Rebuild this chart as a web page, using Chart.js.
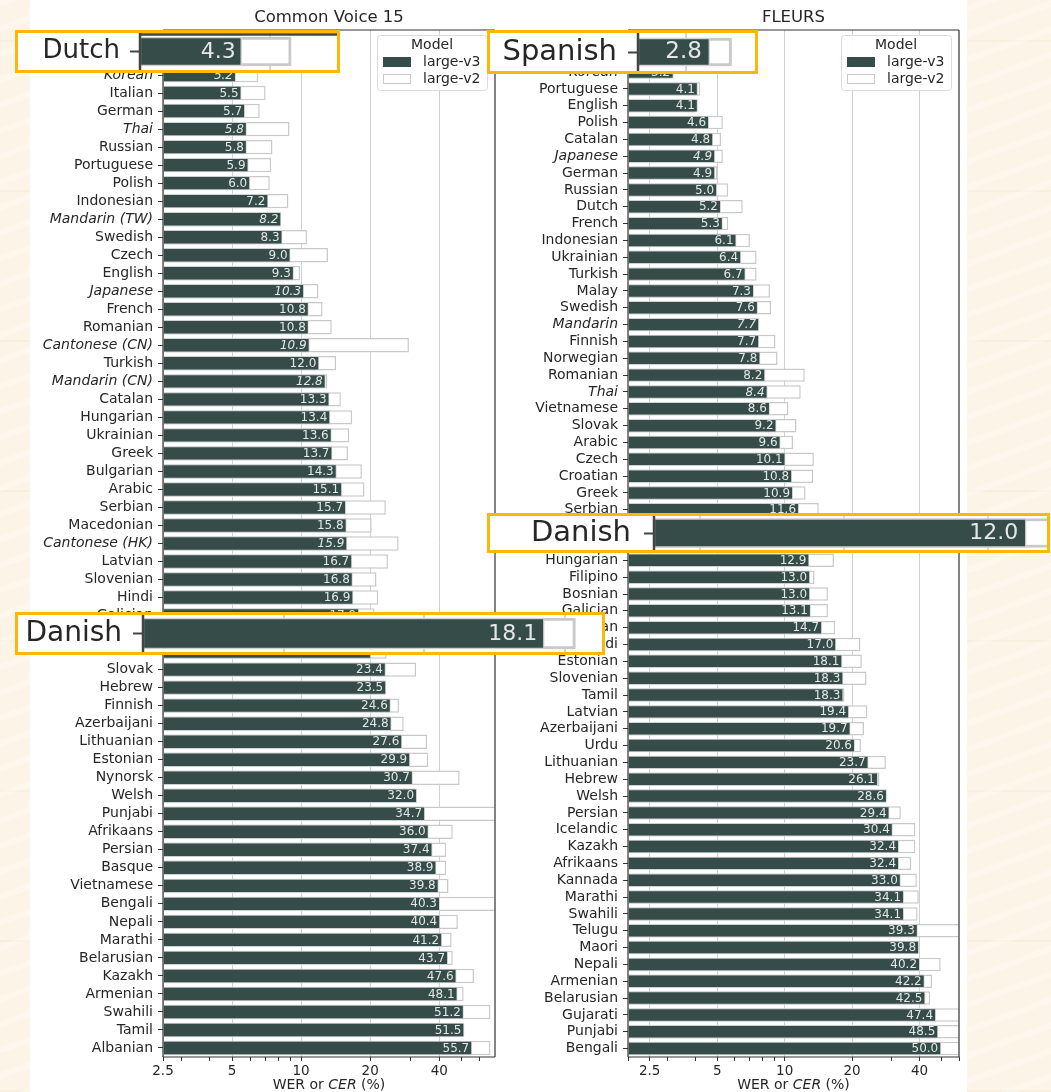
<!DOCTYPE html>
<html>
<head>
<meta charset="utf-8">
<script src="https://cdn.jsdelivr.net/npm/chart.js@4.4.1/dist/chart.umd.min.js"></script>
<style>
  html, body { margin: 0; padding: 0; }
  body {
    width: 1051px; height: 1092px; position: relative; overflow: hidden;
    background:
      repeating-linear-gradient(160deg, rgba(255,255,255,0.3) 0 6px, rgba(255,255,255,0) 6px 24px),
      repeating-linear-gradient(0deg, rgba(240,224,198,0.25) 0 2px, rgba(255,255,255,0) 2px 150px),
      #fcf4e7;
  }
  #sheet { position: absolute; left: 30px; top: 0; width: 937px; height: 1092px; background: #fff; }
  canvas.panel { position: absolute; top: 0; }
  .callout { position: absolute; box-sizing: border-box; border: 3px solid #fbb80a; background: #fff; }
  .callout canvas { display: block; filter: blur(0.5px); }
</style>
</head>
<body>
<div id="sheet"></div>
<canvas id="cvChart" class="panel" width="500" height="1092" style="left:0"></canvas>
<canvas id="fleursChart" class="panel" width="500" height="1092" style="left:500px"></canvas>
<script>
// Common Voice 15
const cvLangs = [
  "Dutch", "Spanish", "Korean", "Italian", "German", "Thai", "Russian", "Portuguese", "Polish",
  "Indonesian", "Mandarin (TW)", "Swedish", "Czech", "English", "Japanese", "French", "Romanian",
  "Cantonese (CN)", "Turkish", "Mandarin (CN)", "Catalan", "Hungarian", "Ukrainian", "Greek",
  "Bulgarian", "Arabic", "Serbian", "Macedonian", "Cantonese (HK)", "Latvian", "Slovenian", "Hindi",
  "Galician", "Danish", "Urdu", "Slovak", "Hebrew", "Finnish", "Azerbaijani", "Lithuanian",
  "Estonian", "Nynorsk", "Welsh", "Punjabi", "Afrikaans", "Persian", "Basque", "Vietnamese",
  "Bengali", "Nepali", "Marathi", "Belarusian", "Kazakh", "Armenian", "Swahili", "Tamil", "Albanian"
];
const cvLargeV3 = [
  4.3, 4.9, 5.2, 5.5, 5.7, 5.8, 5.8, 5.9, 6.0,
  7.2, 8.2, 8.3, 9.0, 9.3, 10.3, 10.8, 10.8,
  10.9, 12.0, 12.8, 13.3, 13.4, 13.6, 13.7,
  14.3, 15.1, 15.7, 15.8, 15.9, 16.7, 16.8, 16.9,
  17.9, 18.1, 20.2, 23.4, 23.5, 24.6, 24.8, 27.6,
  29.9, 30.7, 32.0, 34.7, 36.0, 37.4, 38.9, 39.8,
  40.3, 40.4, 41.2, 43.7, 47.6, 48.1, 51.2, 51.5, 55.7
];
const cvLargeV2 = [
  5.6, 5.9, 6.5, 7.0, 6.6, 8.9, 7.5, 7.4, 7.3,
  8.8, 8.1, 10.6, 13.1, 9.9, 11.9, 12.4, 13.6,
  29.5, 14.2, 13.0, 14.9, 16.7, 16.2, 16.0,
  18.4, 18.9, 23.4, 20.3, 26.6, 23.9, 21.3, 21.7,
  20.9, 21.1, 23.6, 31.7, 23.2, 26.7, 28.0, 35.4,
  35.8, 49.1, 31.5, 80.0, 45.8, 42.9, 42.9, 43.9,
  80.0, 48.2, 45.3, 45.8, 56.7, 51.1, 66.8, 50.8, 66.8
];

// FLEURS
const fleursLangs = [
  "Spanish", "Italian", "Korean", "Portuguese", "English", "Polish", "Catalan", "Japanese", "German",
  "Russian", "Dutch", "French", "Indonesian", "Ukrainian", "Turkish", "Malay", "Swedish", "Mandarin",
  "Finnish", "Norwegian", "Romanian", "Thai", "Vietnamese", "Slovak", "Arabic", "Czech", "Croatian",
  "Greek", "Serbian", "Danish", "Bulgarian", "Hungarian", "Filipino", "Bosnian", "Galician",
  "Macedonian", "Hindi", "Estonian", "Slovenian", "Tamil", "Latvian", "Azerbaijani", "Urdu",
  "Lithuanian", "Hebrew", "Welsh", "Persian", "Icelandic", "Kazakh", "Afrikaans", "Kannada",
  "Marathi", "Swahili", "Telugu", "Maori", "Nepali", "Armenian", "Belarusian", "Gujarati",
  "Punjabi", "Bengali"
];
const fleursLargeV3 = [
  2.8, 3.0, 3.2, 4.1, 4.1, 4.6, 4.8, 4.9, 4.9,
  5.0, 5.2, 5.3, 6.1, 6.4, 6.7, 7.3, 7.6, 7.7,
  7.7, 7.8, 8.2, 8.4, 8.6, 9.2, 9.6, 10.1, 10.8,
  10.9, 11.6, 12.0, 12.5, 12.9, 13.0, 13.0, 13.1,
  14.7, 17.0, 18.1, 18.3, 18.3, 19.4, 19.7, 20.6,
  23.7, 26.1, 28.6, 29.4, 30.4, 32.4, 32.4, 33.0,
  34.1, 34.1, 39.3, 39.8, 40.2, 42.2, 42.5, 47.4,
  48.5, 50.0
];
const fleursLargeV2 = [
  3.1, 3.6, 3.1, 4.2, 4.0, 5.3, 5.2, 5.3, 5.0,
  5.6, 6.5, 5.6, 7.0, 7.5, 7.5, 8.6, 8.7, 7.6,
  9.1, 9.3, 12.3, 11.8, 10.4, 11.3, 10.9, 13.5, 13.4,
  12.4, 14.2, 13.6, 14.6, 16.6, 13.6, 15.6, 15.6,
  16.8, 21.8, 22.1, 23.2, 18.5, 23.4, 22.6, 21.9,
  28.3, 26.5, 28.4, 33.0, 38.3, 38.3, 36.7, 38.9,
  39.7, 39.2, 70.0, 39.5, 49.7, 45.5, 44.6, 70.0,
  70.0, 70.0
];

// languages scored by character error rate, set in italics
const cerLangs = ["Korean", "Thai", "Japanese", "Mandarin", "Mandarin (TW)", "Mandarin (CN)",
  "Cantonese (CN)", "Cantonese (HK)"];

const majorTicks = [2.5, 5, 10, 20, 40];
const minorTicks = [2, 3, 4, 6, 7, 8, 9, 30, 50, 60];

const family = "'DejaVu Sans', 'Liberation Sans', sans-serif";
const ink = "#262626";
const darkBar = "#354c49";
const lightEdge = "#c9c9c9";

Chart.defaults.font.family = family;
Chart.defaults.color = ink;

// box round the plot area (or just some sides of it)
const frame = {
  id: "frame",
  afterDatasetsDraw(chart, args, opts) {
    const { ctx, chartArea: a } = chart;
    const sides = opts.sides || "ltrb";
    ctx.save();
    ctx.strokeStyle = opts.color || "#333";
    ctx.lineWidth = opts.width || 1.2;
    ctx.beginPath();
    if (sides.includes("l")) { ctx.moveTo(a.left, a.top); ctx.lineTo(a.left, a.bottom); }
    if (sides.includes("t")) { ctx.moveTo(a.left, a.top + (opts.topInset || 0)); ctx.lineTo(a.right, a.top + (opts.topInset || 0)); }
    if (sides.includes("r")) { ctx.moveTo(a.right, a.top); ctx.lineTo(a.right, a.bottom); }
    if (sides.includes("b")) { ctx.moveTo(a.left, a.bottom); ctx.lineTo(a.right, a.bottom); }
    ctx.stroke();
    ctx.restore();
  }
};

// value printed at the end of each large-v3 bar
const barValues = {
  id: "barValues",
  afterDatasetsDraw(chart, args, opts) {
    const { ctx, chartArea: a } = chart;
    const meta = chart.getDatasetMeta(0);
    const values = chart.data.datasets[0].data;
    const labels = chart.data.labels;
    ctx.save();
    ctx.beginPath();
    ctx.rect(a.left, a.top, a.right - a.left, a.bottom - a.top);
    ctx.clip();
    ctx.fillStyle = "#e3e7e6";
    ctx.textAlign = "right";
    ctx.textBaseline = "middle";
    meta.data.forEach((bar, i) => {
      const style = cerLangs.includes(labels[i]) ? "italic " : "";
      ctx.font = style + opts.size + "px " + family;
      ctx.fillText(values[i].toFixed(1), bar.x - opts.pad, bar.y + 0.5);
    });
    ctx.restore();
  }
};

// panel title and the x-axis caption with CER in italics
const panelText = {
  id: "panelText",
  afterDraw(chart, args, opts) {
    const { ctx, chartArea: a } = chart;
    const cx = (a.left + a.right) / 2;
    ctx.save();
    ctx.fillStyle = ink;
    ctx.textBaseline = "middle";
    ctx.textAlign = "center";
    ctx.font = "16.5px " + family;
    ctx.fillText(opts.title, cx, 18);

    const parts = [["WER or ", "normal"], ["CER", "italic"], [" (%)", "normal"]];
    const widths = parts.map(p => { ctx.font = p[1] + " 14px " + family; return ctx.measureText(p[0]).width; });
    let x = cx - widths.reduce((s, w) => s + w, 0) / 2;
    ctx.textAlign = "left";
    parts.forEach((p, i) => {
      ctx.font = p[1] + " 14px " + family;
      ctx.fillText(p[0], x, chart.height - 7);
      x += widths[i];
    });
    ctx.restore();
  }
};

// "Model" key in the upper right corner of the plot
const modelKey = {
  id: "modelKey",
  afterDraw(chart) {
    const { ctx, chartArea: a } = chart;
    const w = 110, h = 55;
    const x = a.right - 8 - w, y = a.top + 5;
    ctx.save();
    ctx.beginPath();
    ctx.roundRect(x + 0.5, y + 0.5, w, h, 3);
    ctx.fillStyle = "rgba(255,255,255,0.9)";
    ctx.fill();
    ctx.strokeStyle = "#dcdcdc";
    ctx.lineWidth = 1;
    ctx.stroke();

    ctx.fillStyle = ink;
    ctx.font = "14px " + family;
    ctx.textBaseline = "middle";
    ctx.textAlign = "center";
    ctx.fillText("Model", x + w / 2, y + 10);

    ctx.textAlign = "left";
    chart.data.datasets.forEach((ds, i) => {
      const ry = y + 27 + i * 17;
      ctx.fillStyle = ds.backgroundColor;
      ctx.fillRect(x + 6, ry - 5, 28, 10);
      ctx.strokeStyle = i === 0 ? ds.backgroundColor : lightEdge;
      ctx.strokeRect(x + 6.5, ry - 4.5, 27, 9);
      ctx.fillStyle = ink;
      ctx.fillText(ds.label, x + 46, ry);
    });
    ctx.restore();
  }
};

function barSets(v3, v2, extra) {
  return [
    Object.assign({ label: "large-v3", data: v3, backgroundColor: darkBar,
      borderColor: "rgba(205,210,209,0.9)", borderWidth: 1, borderSkipped: false,
      grouped: false, barPercentage: 0.8, categoryPercentage: 1 }, extra.v3 || {}),
    Object.assign({ label: "large-v2", data: v2, backgroundColor: "#ffffff",
      borderColor: lightEdge, borderWidth: 1.5, borderSkipped: false,
      grouped: false, barPercentage: 0.8, categoryPercentage: 1 }, extra.v2 || {})
  ];
}

function makePanel(id, langs, v3, v2, cfg) {
  const tickVals = majorTicks.concat(minorTicks)
    .filter(v => v >= cfg.min && v <= cfg.max)
    .sort((p, q) => p - q);
  return new Chart(document.getElementById(id), {
    type: "bar",
    data: { labels: langs, datasets: barSets(v3, v2, {}) },
    options: {
      indexAxis: "y",
      responsive: false,
      animation: false,
      layout: { padding: { top: 30, right: cfg.padRight, bottom: 0, left: 0 } },
      plugins: {
        legend: { display: false },
        tooltip: { enabled: false },
        panelText: { title: cfg.title },
        barValues: { size: 12, pad: 3 },
        frame: { sides: "ltrb", color: "#333", width: 1.2 }
      },
      scales: {
        x: {
          type: "logarithmic",
          min: cfg.min,
          max: cfg.max,
          bounds: "data",
          afterBuildTicks: s => { s.ticks = tickVals.map(v => ({ value: v })); },
          afterFit: s => { s.height = 35; },
          ticks: {
            autoSkip: false, maxRotation: 0, padding: 2, color: ink,
            font: { size: 13.5 },
            callback: v => majorTicks.includes(v) ? String(v) : ""
          },
          grid: {
            color: c => (c.tick && majorTicks.includes(c.tick.value)) ? "#d0d0d0" : "rgba(0,0,0,0)",
            tickColor: "#333",
            tickLength: 4,
            lineWidth: 1
          },
          border: { display: false }
        },
        y: {
          afterFit: s => { s.width = cfg.yWidth; s.paddingTop = 0; s.paddingBottom = 0; },
          ticks: {
            autoSkip: false, padding: 5, color: ink,
            font: c => ({ size: 14, style: cerLangs.includes(langs[c.index]) ? "italic" : "normal" })
          },
          grid: { drawOnChartArea: false, offset: false, tickLength: 5, tickColor: "#333" },
          border: { display: false }
        }
      }
    },
    plugins: [frame, barValues, panelText, modelKey]
  });
}

makePanel("cvChart", cvLangs, cvLargeV3, cvLargeV2,
  { title: "Common Voice 15", min: 2.5, max: 70, yWidth: 163, padRight: 5 });
makePanel("fleursChart", fleursLangs, fleursLargeV3, fleursLargeV2,
  { title: "FLEURS", min: 2, max: 60, yWidth: 128, padRight: 41 });

// magnified single-row call-outs
const callouts = [
  { langs: cvLangs, v3: cvLargeV3, v2: cvLargeV2, name: "Dutch",
    box: [15, 30, 325, 43], yWidth: 122, min: 2.5, max: 7.15,
    label: 26, value: 22, pad: 6, bar: 29, gap: 10, sides: "lt" },
  { langs: fleursLangs, v3: fleursLargeV3, v2: fleursLargeV2, name: "Spanish",
    box: [487, 30, 271, 44], yWidth: 148, min: 2, max: 3.46,
    label: 29, value: 23, pad: 8, bar: 28, gap: 11, sides: "l" },
  { langs: fleursLangs, v3: fleursLargeV3, v2: fleursLargeV2, name: "Danish",
    box: [487, 513, 563, 40], yWidth: 164, min: 2, max: 13.26,
    label: 29, value: 22, pad: 8, bar: 29, gap: 13, sides: "l" },
  { langs: cvLangs, v3: cvLargeV3, v2: cvLargeV2, name: "Danish",
    box: [15, 612, 590, 43], yWidth: 125, min: 2.5, max: 24.06,
    label: 28, value: 22, pad: 7, bar: 31, gap: 11, sides: "l" }
];

callouts.forEach(c => {
  const i = c.langs.indexOf(c.name);
  const div = document.createElement("div");
  div.className = "callout";
  div.style.left = c.box[0] + "px";
  div.style.top = c.box[1] + "px";
  div.style.width = c.box[2] + "px";
  div.style.height = c.box[3] + "px";
  const cv = document.createElement("canvas");
  cv.width = c.box[2] - 6;
  cv.height = c.box[3] - 6;
  div.appendChild(cv);
  document.body.appendChild(div);

  const grid = majorTicks.filter(v => v > c.min && v < c.max);
  new Chart(cv, {
    type: "bar",
    data: {
      labels: [c.langs[i]],
      datasets: barSets([c.v3[i]], [c.v2[i]], {
        v3: { barThickness: c.bar, borderWidth: 1.5 },
        v2: { barThickness: c.bar, borderWidth: 3 }
      })
    },
    options: {
      indexAxis: "y",
      responsive: false,
      animation: false,
      layout: { padding: 0 },
      plugins: {
        legend: { display: false },
        tooltip: { enabled: false },
        barValues: { size: c.value, pad: c.pad },
        frame: { sides: c.sides, color: "#444", width: 2.5, topInset: 1.5 }
      },
      scales: {
        x: {
          type: "logarithmic",
          min: c.min,
          max: c.max,
          bounds: "data",
          afterBuildTicks: s => { s.ticks = grid.map(v => ({ value: v })); },
          afterFit: s => { s.height = 0; },
          ticks: { display: false },
          grid: { color: "#d4d4d4", lineWidth: 2, drawTicks: false },
          border: { display: false }
        },
        y: {
          afterFit: s => { s.width = c.yWidth; s.paddingTop = 0; s.paddingBottom = 0; },
          ticks: { padding: c.gap, color: ink, font: { size: c.label } },
          grid: { drawOnChartArea: false, offset: false, tickLength: 10, tickColor: "#444", tickWidth: 2 },
          border: { display: false }
        }
      }
    },
    plugins: [frame, barValues]
  });
});
</script>
</body>
</html>
